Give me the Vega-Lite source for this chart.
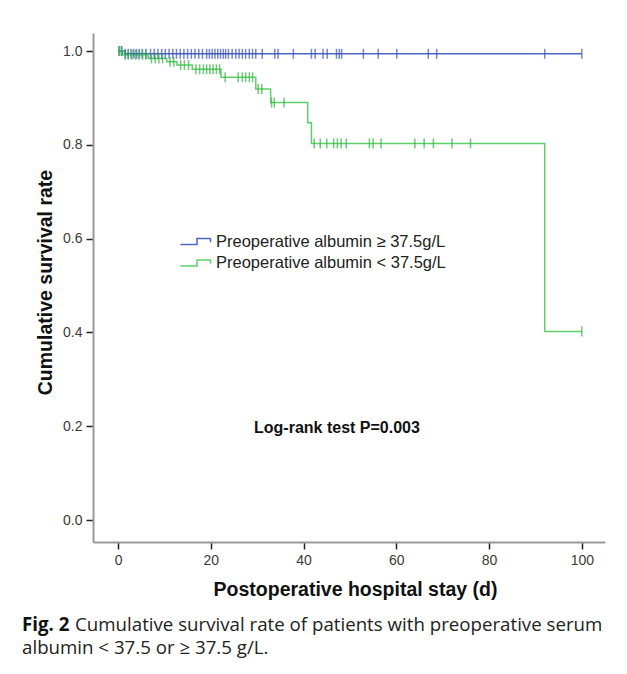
{
  "$schema": "https://vega.github.io/schema/vega-lite/v6.json",
  "width": 512,
  "height": 509,
  "autosize": {"type": "none"},
  "padding": {"left": 93, "top": 33, "right": 22, "bottom": 132},
  "background": "white",
  "config": {
    "view": {"stroke": null},
    "axis": {
      "grid": false,
      "domainColor": "#9a9a9a",
      "domainWidth": 2,
      "tickColor": "#222222",
      "tickWidth": 1.5,
      "tickSize": 7,
      "labelFont": "Liberation Sans",
      "labelFontSize": 14,
      "labelColor": "#3a3a3a",
      "labelPadding": 4,
      "titleFont": "Liberation Sans",
      "titleFontSize": 19.5,
      "titleFontWeight": "bold",
      "titleColor": "#111111"
    }
  },
  "datasets": {
    "km": [
      {"alb": "≥ 37.5g/L", "day": 0, "surv": 1.0},
      {"alb": "≥ 37.5g/L", "day": 1.5, "surv": 0.994},
      {"alb": "≥ 37.5g/L", "day": 100, "surv": 0.994},
      {"alb": "< 37.5g/L", "day": 0, "surv": 1.0},
      {"alb": "< 37.5g/L", "day": 1, "surv": 0.992},
      {"alb": "< 37.5g/L", "day": 6.5, "surv": 0.984},
      {"alb": "< 37.5g/L", "day": 10.5, "surv": 0.977},
      {"alb": "< 37.5g/L", "day": 12.7, "surv": 0.97},
      {"alb": "< 37.5g/L", "day": 16, "surv": 0.961},
      {"alb": "< 37.5g/L", "day": 22.2, "surv": 0.944},
      {"alb": "< 37.5g/L", "day": 29.7, "surv": 0.919},
      {"alb": "< 37.5g/L", "day": 32.9, "surv": 0.89},
      {"alb": "< 37.5g/L", "day": 40.9, "surv": 0.847},
      {"alb": "< 37.5g/L", "day": 41.7, "surv": 0.803},
      {"alb": "< 37.5g/L", "day": 92, "surv": 0.402},
      {"alb": "< 37.5g/L", "day": 100, "surv": 0.402}
    ],
    "cens": [
      {"alb": "≥ 37.5g/L", "day": 0.2, "surv": 1.0},
      {"alb": "≥ 37.5g/L", "day": 0.8, "surv": 1.0},
      {"alb": "≥ 37.5g/L", "day": 1.6, "surv": 0.994},
      {"alb": "≥ 37.5g/L", "day": 2.2, "surv": 0.994},
      {"alb": "≥ 37.5g/L", "day": 2.8, "surv": 0.994},
      {"alb": "≥ 37.5g/L", "day": 3.4, "surv": 0.994},
      {"alb": "≥ 37.5g/L", "day": 4.0, "surv": 0.994},
      {"alb": "≥ 37.5g/L", "day": 4.6, "surv": 0.994},
      {"alb": "≥ 37.5g/L", "day": 5.2, "surv": 0.994},
      {"alb": "≥ 37.5g/L", "day": 6.0, "surv": 0.994},
      {"alb": "≥ 37.5g/L", "day": 7.0, "surv": 0.994},
      {"alb": "≥ 37.5g/L", "day": 7.8, "surv": 0.994},
      {"alb": "≥ 37.5g/L", "day": 8.6, "surv": 0.994},
      {"alb": "≥ 37.5g/L", "day": 9.4, "surv": 0.994},
      {"alb": "≥ 37.5g/L", "day": 10.2, "surv": 0.994},
      {"alb": "≥ 37.5g/L", "day": 11.0, "surv": 0.994},
      {"alb": "≥ 37.5g/L", "day": 11.8, "surv": 0.994},
      {"alb": "≥ 37.5g/L", "day": 12.6, "surv": 0.994},
      {"alb": "≥ 37.5g/L", "day": 13.4, "surv": 0.994},
      {"alb": "≥ 37.5g/L", "day": 14.2, "surv": 0.994},
      {"alb": "≥ 37.5g/L", "day": 15.0, "surv": 0.994},
      {"alb": "≥ 37.5g/L", "day": 15.8, "surv": 0.994},
      {"alb": "≥ 37.5g/L", "day": 16.6, "surv": 0.994},
      {"alb": "≥ 37.5g/L", "day": 17.4, "surv": 0.994},
      {"alb": "≥ 37.5g/L", "day": 18.2, "surv": 0.994},
      {"alb": "≥ 37.5g/L", "day": 19.1, "surv": 0.994},
      {"alb": "≥ 37.5g/L", "day": 19.7, "surv": 0.994},
      {"alb": "≥ 37.5g/L", "day": 20.3, "surv": 0.994},
      {"alb": "≥ 37.5g/L", "day": 20.9, "surv": 0.994},
      {"alb": "≥ 37.5g/L", "day": 21.5, "surv": 0.994},
      {"alb": "≥ 37.5g/L", "day": 22.1, "surv": 0.994},
      {"alb": "≥ 37.5g/L", "day": 22.7, "surv": 0.994},
      {"alb": "≥ 37.5g/L", "day": 23.2, "surv": 0.994},
      {"alb": "≥ 37.5g/L", "day": 23.8, "surv": 0.994},
      {"alb": "≥ 37.5g/L", "day": 24.6, "surv": 0.994},
      {"alb": "≥ 37.5g/L", "day": 25.4, "surv": 0.994},
      {"alb": "≥ 37.5g/L", "day": 26.1, "surv": 0.994},
      {"alb": "≥ 37.5g/L", "day": 26.8, "surv": 0.994},
      {"alb": "≥ 37.5g/L", "day": 27.5, "surv": 0.994},
      {"alb": "≥ 37.5g/L", "day": 28.3, "surv": 0.994},
      {"alb": "≥ 37.5g/L", "day": 29.0, "surv": 0.994},
      {"alb": "≥ 37.5g/L", "day": 29.7, "surv": 0.994},
      {"alb": "≥ 37.5g/L", "day": 31.1, "surv": 0.994},
      {"alb": "≥ 37.5g/L", "day": 33.8, "surv": 0.994},
      {"alb": "≥ 37.5g/L", "day": 34.5, "surv": 0.994},
      {"alb": "≥ 37.5g/L", "day": 37.8, "surv": 0.994},
      {"alb": "≥ 37.5g/L", "day": 41.7, "surv": 0.994},
      {"alb": "≥ 37.5g/L", "day": 42.5, "surv": 0.994},
      {"alb": "≥ 37.5g/L", "day": 44.2, "surv": 0.994},
      {"alb": "≥ 37.5g/L", "day": 45.1, "surv": 0.994},
      {"alb": "≥ 37.5g/L", "day": 47.1, "surv": 0.994},
      {"alb": "≥ 37.5g/L", "day": 47.7, "surv": 0.994},
      {"alb": "≥ 37.5g/L", "day": 48.2, "surv": 0.994},
      {"alb": "≥ 37.5g/L", "day": 52.9, "surv": 0.994},
      {"alb": "≥ 37.5g/L", "day": 56.1, "surv": 0.994},
      {"alb": "≥ 37.5g/L", "day": 60.1, "surv": 0.994},
      {"alb": "≥ 37.5g/L", "day": 66.9, "surv": 0.994},
      {"alb": "≥ 37.5g/L", "day": 68.7, "surv": 0.994},
      {"alb": "≥ 37.5g/L", "day": 92.0, "surv": 0.994},
      {"alb": "≥ 37.5g/L", "day": 100, "surv": 0.994},
      {"alb": "< 37.5g/L", "day": 0.3, "surv": 1.0},
      {"alb": "< 37.5g/L", "day": 0.7, "surv": 1.0},
      {"alb": "< 37.5g/L", "day": 1.5, "surv": 0.992},
      {"alb": "< 37.5g/L", "day": 2.2, "surv": 0.992},
      {"alb": "< 37.5g/L", "day": 3.0, "surv": 0.992},
      {"alb": "< 37.5g/L", "day": 3.8, "surv": 0.992},
      {"alb": "< 37.5g/L", "day": 4.5, "surv": 0.992},
      {"alb": "< 37.5g/L", "day": 5.3, "surv": 0.992},
      {"alb": "< 37.5g/L", "day": 6.0, "surv": 0.992},
      {"alb": "< 37.5g/L", "day": 7.2, "surv": 0.984},
      {"alb": "< 37.5g/L", "day": 8.0, "surv": 0.984},
      {"alb": "< 37.5g/L", "day": 8.8, "surv": 0.984},
      {"alb": "< 37.5g/L", "day": 9.6, "surv": 0.984},
      {"alb": "< 37.5g/L", "day": 11.2, "surv": 0.977},
      {"alb": "< 37.5g/L", "day": 12.0, "surv": 0.977},
      {"alb": "< 37.5g/L", "day": 13.5, "surv": 0.97},
      {"alb": "< 37.5g/L", "day": 14.3, "surv": 0.97},
      {"alb": "< 37.5g/L", "day": 15.2, "surv": 0.97},
      {"alb": "< 37.5g/L", "day": 16.8, "surv": 0.961},
      {"alb": "< 37.5g/L", "day": 17.6, "surv": 0.961},
      {"alb": "< 37.5g/L", "day": 18.4, "surv": 0.961},
      {"alb": "< 37.5g/L", "day": 19.1, "surv": 0.961},
      {"alb": "< 37.5g/L", "day": 19.8, "surv": 0.961},
      {"alb": "< 37.5g/L", "day": 20.5, "surv": 0.961},
      {"alb": "< 37.5g/L", "day": 21.2, "surv": 0.961},
      {"alb": "< 37.5g/L", "day": 21.9, "surv": 0.961},
      {"alb": "< 37.5g/L", "day": 23.1, "surv": 0.944},
      {"alb": "< 37.5g/L", "day": 25.9, "surv": 0.944},
      {"alb": "< 37.5g/L", "day": 26.8, "surv": 0.944},
      {"alb": "< 37.5g/L", "day": 27.5, "surv": 0.944},
      {"alb": "< 37.5g/L", "day": 28.3, "surv": 0.944},
      {"alb": "< 37.5g/L", "day": 29.0, "surv": 0.944},
      {"alb": "< 37.5g/L", "day": 30.2, "surv": 0.919},
      {"alb": "< 37.5g/L", "day": 31.0, "surv": 0.919},
      {"alb": "< 37.5g/L", "day": 33.1, "surv": 0.89},
      {"alb": "< 37.5g/L", "day": 33.7, "surv": 0.89},
      {"alb": "< 37.5g/L", "day": 35.8, "surv": 0.89},
      {"alb": "< 37.5g/L", "day": 42.3, "surv": 0.803},
      {"alb": "< 37.5g/L", "day": 43.6, "surv": 0.803},
      {"alb": "< 37.5g/L", "day": 45.0, "surv": 0.803},
      {"alb": "< 37.5g/L", "day": 46.5, "surv": 0.803},
      {"alb": "< 37.5g/L", "day": 47.3, "surv": 0.803},
      {"alb": "< 37.5g/L", "day": 48.1, "surv": 0.803},
      {"alb": "< 37.5g/L", "day": 49.2, "surv": 0.803},
      {"alb": "< 37.5g/L", "day": 54.2, "surv": 0.803},
      {"alb": "< 37.5g/L", "day": 55.0, "surv": 0.803},
      {"alb": "< 37.5g/L", "day": 56.7, "surv": 0.803},
      {"alb": "< 37.5g/L", "day": 64.0, "surv": 0.803},
      {"alb": "< 37.5g/L", "day": 66.0, "surv": 0.803},
      {"alb": "< 37.5g/L", "day": 68.0, "surv": 0.803},
      {"alb": "< 37.5g/L", "day": 72.0, "surv": 0.803},
      {"alb": "< 37.5g/L", "day": 76.0, "surv": 0.803},
      {"alb": "< 37.5g/L", "day": 100, "surv": 0.402}
    ]
  },
  "layer": [
    {
      "data": {"name": "km"},
      "mark": {"type": "line", "interpolate": "step-after", "strokeWidth": 1.5},
      "encoding": {
        "x": {
          "field": "day",
          "type": "quantitative",
          "scale": {"domain": [-5.4, 105], "nice": false, "zero": false},
          "axis": {"values": [0, 20, 40, 60, 80, 100], "title": "Postoperative hospital stay (d)", "titlePadding": 13, "titleX": 262}
        },
        "y": {
          "field": "surv",
          "type": "quantitative",
          "scale": {"domain": [-0.0469, 1.0384], "nice": false, "zero": false},
          "axis": {"values": [0, 0.2, 0.4, 0.6, 0.8, 1.0], "format": ".1f", "title": "Cumulative survival rate", "titlePadding": 7, "titleY": 249}
        },
        "color": {
          "field": "alb",
          "type": "nominal",
          "scale": {"domain": ["≥ 37.5g/L", "< 37.5g/L"], "range": ["#4e66c4", "#5dd167"]},
          "legend": {
            "title": null,
            "orient": "none",
            "legendX": 94,
            "legendY": 200,
            "padding": 0,
            "symbolType": "M-2,0.4H0.2V-0.4H2V0.1",
            "symbolSize": 225,
            "symbolStrokeWidth": 1.5,
            "symbolFillColor": "transparent",
            "labelOffset": 12,
            "rowPadding": 4.5,
            "labelFont": "Liberation Sans",
            "labelFontSize": 16.5,
            "labelColor": "#222222",
            "labelLimit": 400,
            "labelExpr": "'Preoperative albumin ' + datum.label"
          }
        }
      }
    },
    {
      "data": {"name": "cens"},
      "mark": {"type": "tick", "orient": "vertical", "size": 10, "thickness": 1.5},
      "encoding": {
        "x": {"field": "day", "type": "quantitative"},
        "y": {"field": "surv", "type": "quantitative"},
        "color": {
          "field": "alb",
          "type": "nominal",
          "scale": {"domain": ["≥ 37.5g/L", "< 37.5g/L"], "range": ["#3a52b5", "#33b043"]},
          "legend": null
        }
      }
    },
    {
      "data": {"values": [{}]},
      "mark": {"type": "text", "text": "Log-rank test P=0.003", "align": "center", "baseline": "middle", "font": "Liberation Sans", "fontSize": 16, "fontWeight": "bold", "color": "#111111"},
      "encoding": {"x": {"datum": 47.2}, "y": {"datum": 0.196}}
    },
    {
      "data": {"values": [{}]},
      "mark": {"type": "text", "text": "Fig. 2", "align": "left", "baseline": "middle", "font": "Open Sans", "fontSize": 18.7, "fontWeight": "bold", "color": "#111111"},
      "encoding": {"x": {"datum": -20.7}, "y": {"datum": -0.2239}}
    },
    {
      "data": {"values": [{}]},
      "mark": {"type": "text", "text": "Cumulative survival rate of patients with preoperative serum", "align": "left", "baseline": "middle", "font": "Open Sans", "fontSize": 18.7, "color": "#222222"},
      "encoding": {"x": {"datum": -9.27}, "y": {"datum": -0.2239}}
    },
    {
      "data": {"values": [{}]},
      "mark": {"type": "text", "text": "albumin < 37.5 or ≥ 37.5 g/L.", "align": "left", "baseline": "middle", "font": "Open Sans", "fontSize": 18.7, "color": "#222222"},
      "encoding": {"x": {"datum": -20.7}, "y": {"datum": -0.2729}}
    }
  ],
  "resolve": {"scale": {"color": "independent"}}
}
